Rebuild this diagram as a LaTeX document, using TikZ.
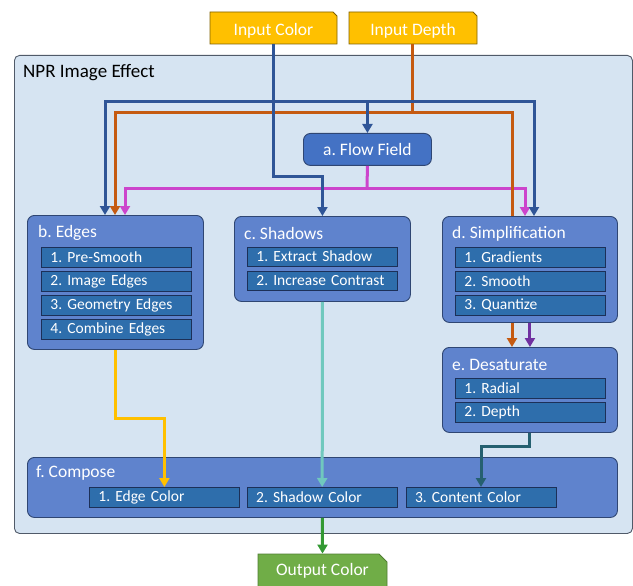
\documentclass[tikz,border=0pt]{standalone}
\usepackage{fontspec}
\setmainfont{Carlito}
\usepackage{xcolor}
\usepackage{tikz}
\usetikzlibrary{arrows.meta, positioning, shapes.misc}
\definecolor{nprfill}{RGB}{214,228,242}
\definecolor{nprline}{RGB}{80,90,105}
\definecolor{stagefill}{RGB}{95,131,205}
\definecolor{stageline}{RGB}{47,70,115}
\definecolor{flowfill}{RGB}{68,114,196}
\definecolor{itemfill}{RGB}{46,110,172}
\definecolor{itemline}{RGB}{28,48,88}
\definecolor{inputfill}{RGB}{255,192,0}
\definecolor{inputline}{RGB}{127,96,0}
\definecolor{outputfill}{RGB}{112,173,71}
\definecolor{outputline}{RGB}{80,126,50}
\definecolor{colorwire}{RGB}{47,85,151}
\definecolor{depthwire}{RGB}{197,90,17}
\definecolor{flowwire}{RGB}{204,68,204}
\definecolor{edgewire}{RGB}{255,192,0}
\definecolor{shadwire}{RGB}{112,200,190}
\definecolor{simpwire}{RGB}{112,48,160}
\definecolor{desatwire}{RGB}{37,96,112}
\definecolor{outwire}{RGB}{51,153,51}

\begin{document}
\frenchspacing
\begin{tikzpicture}[
    x=1pt, y=-1pt,
    npr/.style={draw=nprline, fill=nprfill, rounded corners=5pt, line width=0.9pt,
                anchor=north west, inner sep=0pt},
    stage/.style={draw=stageline, fill=stagefill, rounded corners=7pt, line width=0.9pt,
                  anchor=north west, inner sep=0pt},
    stagetitle/.style={text=white, font=\fontsize{17.5}{20}\selectfont, inner sep=0pt},
    item/.style={draw=itemline, fill=itemfill, line width=0.8pt, minimum width=150pt,
                 minimum height=19.5pt, inner xsep=9pt, inner ysep=0pt, text width=132pt,
                 align=left, text=white, font=\fontsize{15.5}{18}\selectfont},
    ioput/.style={chamfered rectangle, chamfered rectangle corners=north east,
                  chamfered rectangle sep=4pt, line width=0.9pt, inner sep=0pt,
                  text=white, font=\fontsize{17.5}{20}\selectfont},
    wire/.style={line width=3pt, -{Triangle[length=9pt, width=10pt]}}
]
\useasboundingbox (0,0) rectangle (633,586);

% Inputs
\node[ioput, draw=inputline, fill=inputfill, minimum width=127pt, minimum height=32pt]
    (incolor) at (273.5,28) {\raisebox{-7.5pt}[0pt][0pt]{Input Color}};
\node[ioput, draw=inputline, fill=inputfill, minimum width=128pt, minimum height=32pt]
    (indepth) at (413,28) {\raisebox{-7.5pt}[0pt][0pt]{Input Depth}};

% Container
\node[npr, minimum width=618pt, minimum height=478pt] (effect) at (14,55) {};
\node[inner sep=0pt, font=\fontsize{19}{22}\selectfont, right=9pt of effect.north west,
      yshift=-18pt] (efftitle) {NPR Image Effect};

% a. Flow Field
\node[stage, fill=flowfill, minimum width=128pt, minimum height=32pt] (flow) at (303,133) {};
\node[stagetitle] (flowtitle) at (flow.center) {a. Flow Field};

% b. Edges
\node[stage, minimum width=176pt, minimum height=134pt] (edges) at (27,215) {};
\node[stagetitle, right=11pt of edges.north west, yshift=-18pt] (edgestitle) {b. Edges};
\node[item, below right=32pt and 14pt of edges.north west] (edges1) {1. Pre-Smooth};
\node[item, below=3.8pt of edges1] (edges2) {2. Image Edges};
\node[item, below=3.8pt of edges2] (edges3) {3. Geometry Edges};
\node[item, below=3.8pt of edges3] (edges4) {4. Combine Edges};

% c. Shadows
\node[stage, minimum width=176pt, minimum height=85pt] (shad) at (234,216) {};
\node[stagetitle, right=10pt of shad.north west, yshift=-17.5pt] (shadtitle) {c. Shadows};
\node[item, below right=30.5pt and 13pt of shad.north west] (shad1) {1. Extract Shadow};
\node[item, below=3.8pt of shad1] (shad2) {2. Increase Contrast};

% d. Simplification
\node[stage, minimum width=175pt, minimum height=106pt] (simp) at (442,216) {};
\node[stagetitle, right=10pt of simp.north west, yshift=-17.5pt] (simptitle) {d. Simplification};
\node[item, below right=31pt and 13pt of simp.north west] (simp1) {1. Gradients};
\node[item, below=3.8pt of simp1] (simp2) {2. Smooth};
\node[item, below=3.8pt of simp2] (simp3) {3. Quantize};

% e. Desaturate
\node[stage, minimum width=175pt, minimum height=85pt] (desat) at (442,347) {};
\node[stagetitle, right=10pt of desat.north west, yshift=-17.5pt] (desattitle) {e. Desaturate};
\node[item, below right=31pt and 13pt of desat.north west] (desat1) {1. Radial};
\node[item, below=3.8pt of desat1] (desat2) {2. Depth};

% f. Compose
\node[stage, minimum width=590pt, minimum height=60pt] (compose) at (27,457) {};
\node[stagetitle, right=9pt of compose.north west, yshift=-16pt] (composetitle) {f. Compose};
\node[item, below right=30pt and 62pt of compose.north west] (fedge) {1. Edge Color};
\node[item, right=7pt of fedge] (fshad) {2. Shadow Color};
\node[item, right=8pt of fshad] (fcont) {3. Content Color};

% Output
\node[ioput, draw=outputline, fill=outputfill, minimum width=129pt, minimum height=34pt]
    (outcolor) at (322.5,571) {Output Color};

% Wires
\coordinate (colorbus) at (273,102);
\coordinate (depthbus) at (412,113);
\coordinate (flowbus)  at (367,189);

\draw[wire, flowwire, -] (flow.south) -- (flowbus);
\draw[wire, flowwire] (flowbus) -| ([xshift=98pt]edges.north west);
\draw[wire, flowwire] (flowbus) -| ([xshift=83pt]simp.north west);

\draw[wire, depthwire, -] (indepth.south -| depthbus) -- (depthbus);
\draw[wire, depthwire] (depthbus) -| ([xshift=88pt]edges.north west);
\draw[wire, depthwire, -] (depthbus) -| ([xshift=70pt]simp.north west);
\draw[wire, depthwire] ([xshift=70pt]simp.south west) -- ([xshift=70pt]desat.north west);

\draw[wire, colorwire] (incolor.south) |- ([yshift=39pt]shad.north) -- (shad.north);
\draw[wire, colorwire] (colorbus) -| ([xshift=78pt]edges.north west);
\draw[wire, colorwire] (colorbus) -| ([xshift=92pt]simp.north west);
\draw[wire, colorwire] (flow.north |- colorbus) -- (flow.north);

\draw[wire, simpwire] (simp.south) -- (desat.north);
\draw[wire, edgewire] (edges.south) -- ([yshift=-69pt]edges.south) -| (fedge.north);
\draw[wire, shadwire] (shad.south) -- (fshad.north);
\draw[wire, desatwire] (desat.south) -- ([yshift=-14pt]desat.south) -| (fcont.north);
\draw[wire, outwire] (compose.south) -- (outcolor.north);

\end{tikzpicture}
\end{document}
